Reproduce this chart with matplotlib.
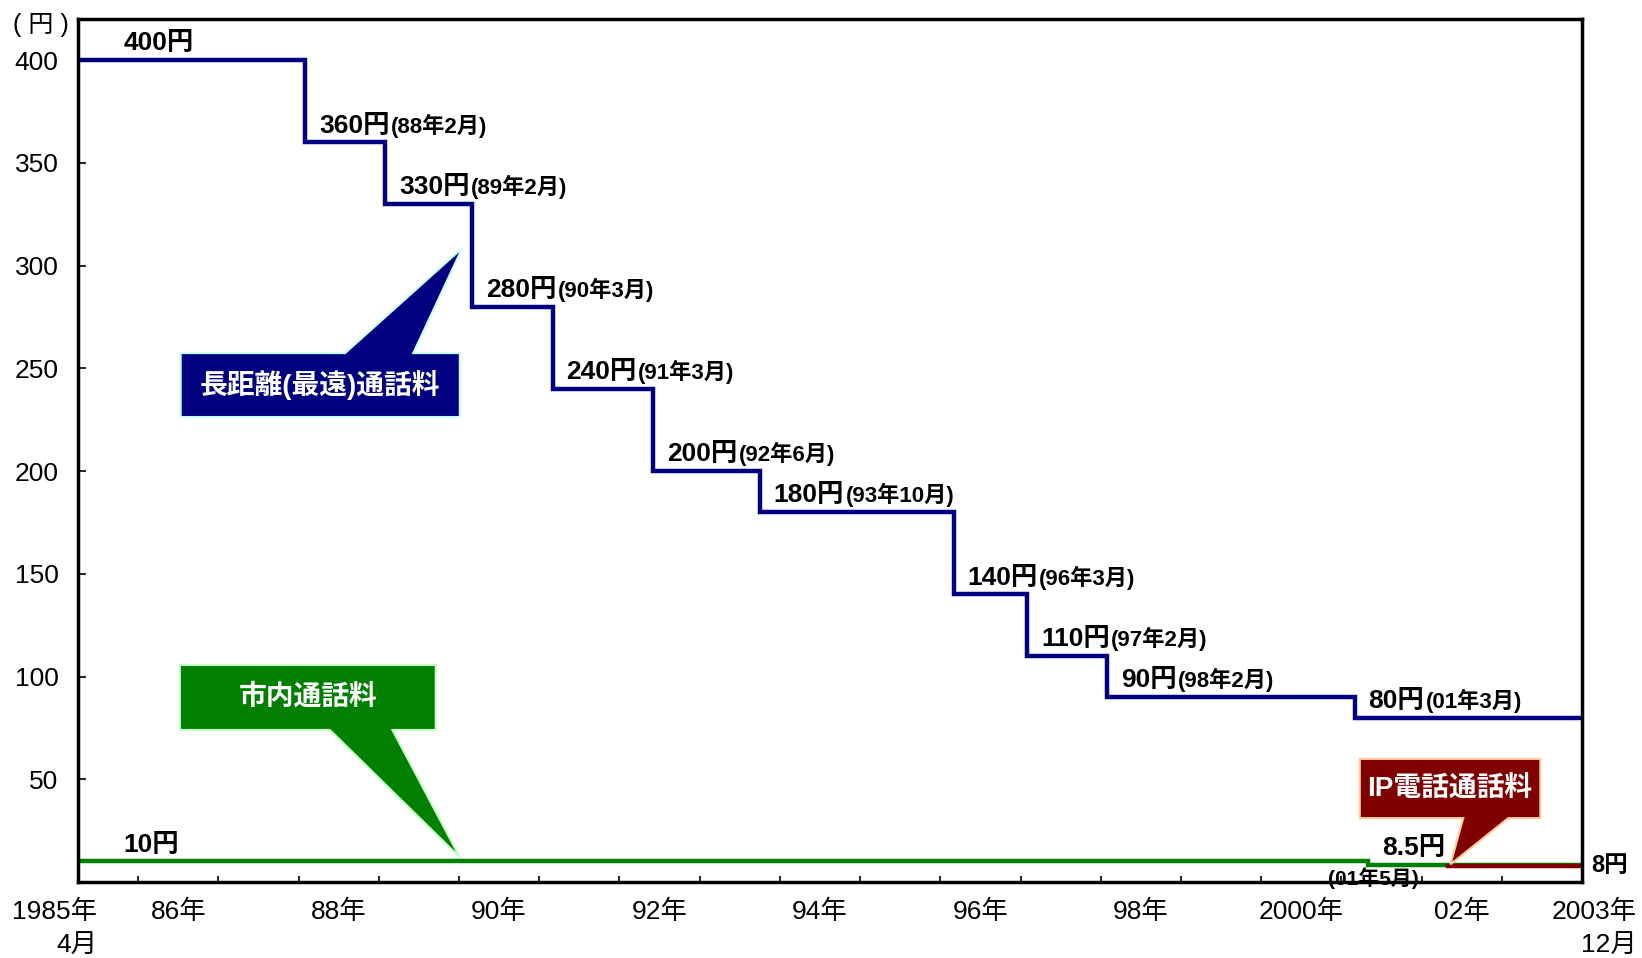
import matplotlib.pyplot as plt
from matplotlib.patches import Polygon

plt.rcParams['font.family'] = ['Liberation Sans', 'Noto Sans CJK JP']

# 長距離(最遠)通話料の改定月と料金(円)
long_dates = ['1985-04', '1988-02', '1989-02', '1990-03', '1991-03', '1992-06',
              '1993-10', '1996-03', '1997-02', '1998-02', '2001-03']
long_fees = [400, 360, 330, 280, 240, 200, 180, 140, 110, 90, 80]

# 市内通話料
local_dates = ['1985-04', '2001-05']
local_fees = [10, 8.5]

# IP電話通話料
ip_dates = ['2002-05']
ip_fees = [8]

end_month = '2003-12'

label_years = [1986, 1988, 1990, 1992, 1994, 1996, 1998, 2000, 2002]
year_labels = ['86年', '88年', '90年', '92年', '94年', '96年', '98年', '2000年', '02年']
y_ticks = [50, 100, 150, 200, 250, 300, 350, 400]

NAVY = '#000080'
GREEN = '#007f00'
DARKRED = '#800000'


def ym(s):
    y, m = s.split('-')
    return int(y) + (int(m) - 1) / 12


def month_label(s):
    y, m = s.split('-')
    return f'({y[2:]}年{int(m)}月)'


x_start = ym(long_dates[0])
x_end = ym(end_month) + 1 / 12

fig = plt.figure(figsize=(16.42, 9.58), dpi=100)
ax = fig.add_axes([78 / 1642, 1 - 882 / 958, 1504 / 1642, 863 / 958])


def draw_steps(dates, fees, color):
    xs = [ym(d) for d in dates] + [x_end]
    ys = list(fees) + [fees[-1]]
    ax.step(xs, ys, where='post', color=color, lw=3.2, solid_joinstyle='miter', zorder=2)


draw_steps(long_dates, long_fees, NAVY)
draw_steps(local_dates, local_fees, GREEN)
draw_steps(ip_dates, ip_fees, DARKRED)


def value_label(x, fee, with_date=None):
    t = ax.annotate(f'{fee:g}円', xy=(x, fee), xytext=(10, 7), textcoords='offset points',
                    fontsize=19, fontweight='bold', va='baseline', zorder=3)
    if with_date:
        ax.annotate(with_date, xy=(1, 0), xycoords=t, xytext=(1, 0),
                    textcoords='offset points', fontsize=16, fontweight='bold',
                    va='bottom', zorder=3)
    return t


# 長距離の料金ラベル (最初の区間は少し右寄せ)
for i, (d, fee) in enumerate(zip(long_dates, long_fees)):
    if i == 0:
        value_label(ym(d) + 0.39, fee)
    else:
        value_label(ym(d), fee, month_label(d))

# 市内通話料のラベル
value_label(ym(local_dates[0]) + 0.39, local_fees[0])
value_label(ym(local_dates[1]), local_fees[1])
ax.annotate(month_label(local_dates[1]), xy=(ym(local_dates[1]), local_fees[1]),
            xytext=(4, -2), textcoords='offset points', ha='center', va='top',
            fontsize=15, fontweight='bold', zorder=3)

# IP電話の料金は枠の外に
ax.annotate(f'{ip_fees[0]:g}円', xy=(1, ip_fees[0]), xycoords=('axes fraction', 'data'),
            xytext=(7, 0), textcoords='offset points', ha='left', va='center',
            fontsize=17, fontweight='bold', annotation_clip=False)


def callout(box, tail, tip, text, face, edge):
    x0, x1, y0, y1 = box
    if tip[1] > y1:
        verts = [(x0, y0), (x1, y0), (x1, y1), (tail[1], y1), tip, (tail[0], y1), (x0, y1)]
    else:
        verts = [(x0, y1), (x1, y1), (x1, y0), (tail[1], y0), tip, (tail[0], y0), (x0, y0)]
    ax.add_patch(Polygon(verts, closed=True, facecolor=face, edgecolor=edge, lw=1.5,
                         joinstyle='miter', zorder=4))
    ax.text((x0 + x1) / 2, (y0 + y1) / 2, text, color='white', fontsize=20,
            fontweight='bold', ha='center', va='center', zorder=5)


callout((1986.53, 1990.01, 226.3, 257.4), (1988.58, 1989.43), (1990.04, 308.5),
        '長距離(最遠)通話料', NAVY, '#c8ffff')
callout((1986.52, 1989.71, 74.0, 105.6), (1988.39, 1989.17), (1990.01, 12),
        '市内通話料', GREEN, '#c8ffc8')
callout((2001.23, 2003.48, 31.1, 59.9), (2002.52, 2003.08), (2002.36, 8.6),
        'IP電話通話料', DARKRED, '#ffcc99')

# 軸
ax.set_xlim(x_start, x_end)
ax.set_ylim(0, 420)
ax.set_yticks(y_ticks)
ax.set_xticks(list(range(1986, 2004)), minor=True)
ax.set_xticks([y + 0.5 for y in label_years], labels=year_labels)
ax.tick_params(axis='x', which='major', length=0, pad=13, labelsize=19)
ax.tick_params(axis='x', which='minor', direction='in', length=4, width=1.2)
ax.tick_params(axis='y', direction='in', length=6, width=1.2, pad=14, labelsize=19)
for s in ax.spines.values():
    s.set_linewidth(2.5)
    s.set_color('black')

ax.annotate('1985年\n4月', xy=(0.0126, 0), xycoords='axes fraction', xytext=(0, -13),
            textcoords='offset points', ha='right', va='top', fontsize=19,
            linespacing=1.5, annotation_clip=False)
ax.annotate('2003年\n12月', xy=(1.0366, 0), xycoords='axes fraction', xytext=(0, -13),
            textcoords='offset points', ha='right', va='top', fontsize=19,
            linespacing=1.5, annotation_clip=False)
ax.text(-0.006, 0.993, '( 円 )', transform=ax.transAxes, ha='right', va='center', fontsize=18)

fig.savefig('out.png', dpi=100)
